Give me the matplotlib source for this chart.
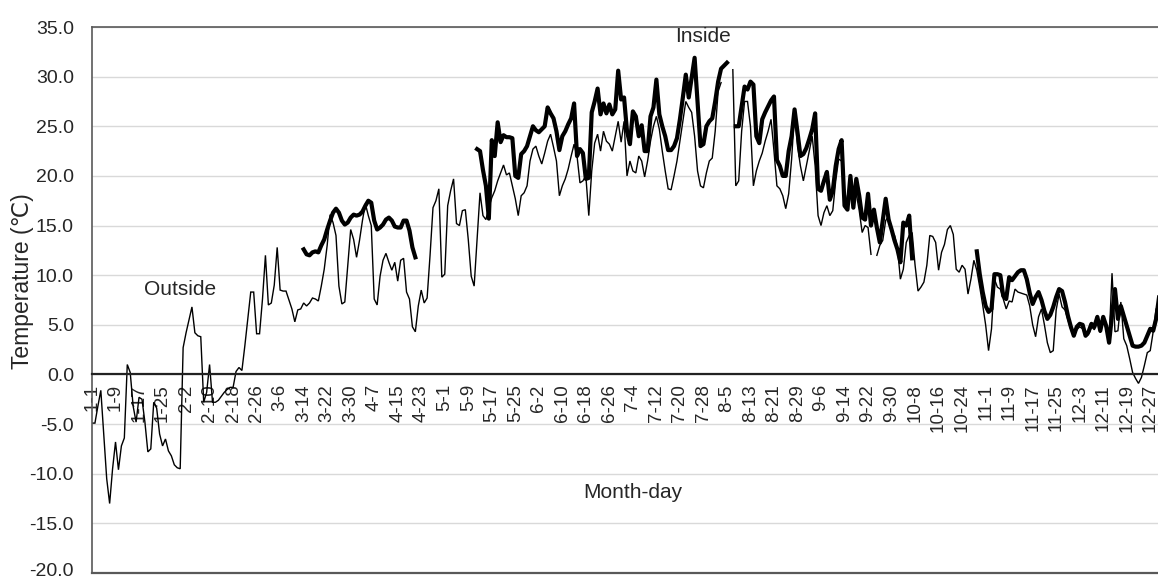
import matplotlib
matplotlib.use("Agg")
import matplotlib.pyplot as plt
import matplotlib.transforms as mtransforms
import numpy as np

plt.rcParams['font.family'] = ['Liberation Sans', 'DejaVu Sans']

# daily mean temperature, 1 Jan .. 31 Dec (None = no record)
outside = [
    -4.9, -4.9, -3.2, -1.6, -6.0, -10.5, -13.0, -9.5, -6.8, -9.6,
    -7.2, -6.4, 1.0, 0.2, -3.2, -4.8, -2.3, -2.5, -4.8, -7.8,
    -7.5, -2.8, -3.4, -6.0, -7.2, -6.5, -7.7, -8.2, -9.1, -9.4,
    -9.5, 2.7, 4.2, 5.5, 6.8, 4.2, 3.9, 3.8, -2.8, -1.8,
    1.0, -2.8, -2.8, -2.6, -2.2, -1.8, -1.5, -1.3, -1.3, 0.3,
    0.7, 0.4, 2.9, 5.6, 8.3, 8.3, 4.1, 4.1, 7.6, 12.0,
    7.0, 7.2, 9.0, 12.8, 8.5, 8.4, 8.4, 7.5, 6.6, 5.3,
    6.5, 6.6, 7.2, 6.9, 7.2, 7.7, 7.6, 7.4, 8.9, 10.6,
    13.0, 16.1, 15.3, 14.0, 8.9, 7.1, 7.3, 11.0, 14.6, 13.6,
    11.8, 13.5, 15.5, 17.2, 16.0, 15.0, 7.6, 7.0, 9.9, 11.5,
    12.2, 11.3, 10.5, 11.3, 9.4, 11.5, 11.7, 8.3, 7.6, 4.8,
    4.3, 6.9, 8.5, 7.2, 7.7, 12.0, 16.8, 17.5, 18.7, 9.8,
    10.1, 17.0, 18.5, 19.7, 15.2, 15.0, 16.5, 16.6, 13.6, 9.9,
    8.9, 13.6, 18.3, 16.0, 15.6, 16.8, 17.8, 18.5, 19.5, 20.3,
    21.1, 20.1, 20.3, 19.0, 17.7, 16.0, 18.0, 18.3, 19.0, 21.5,
    22.7, 23.0, 22.0, 21.2, 22.3, 23.5, 24.2, 22.9, 21.5, 18.0,
    19.0, 19.7, 20.7, 22.0, 23.2, 22.0, 19.3, 19.5, 20.0, 16.0,
    20.5, 23.3, 24.2, 22.5, 24.5, 23.5, 23.2, 22.5, 24.0, 25.5,
    23.4, 25.5, 20.0, 21.5, 20.5, 20.3, 22.0, 21.5, 19.9, 21.5,
    23.5, 25.0, 26.0, 24.7, 22.5, 20.5, 18.7, 18.6, 20.0, 21.5,
    23.5, 25.5, 27.5, 26.9, 26.4, 24.0, 20.5, 19.0, 18.8, 20.3,
    21.5, 21.8, 24.5, 28.5, 29.4, None, None, None, 30.7, 19.0,
    19.5, 24.5, 27.5, 27.5, 25.0, 19.0, 20.5, 21.5, 22.3, 23.5,
    24.5, 25.7, 22.5, 19.0, 18.7, 18.0, 16.7, 18.2, 21.7, 26.4,
    23.0, 21.0, 19.5, 21.0, 22.5, 24.0, 21.0, 16.0, 15.0, 16.3,
    17.0, 16.0, 16.5, 19.5, 21.7, 21.5, 18.5, 17.1, 18.3, 17.0,
    18.2, 16.5, 14.3, 15.0, 14.8, 12.1, None, 12.0, 13.0, 13.5,
    15.5, 16.0, 14.5, 14.0, 12.8, 9.6, 10.6, 13.3, 14.0, 14.3,
    11.0, 8.4, 8.8, 9.3, 11.0, 14.0, 13.9, 13.3, 10.5, 12.3,
    13.1, 14.6, 15.0, 14.1, 10.6, 10.3, 11.0, 10.6, 8.1, 9.6,
    11.5, 10.5, 8.8, 7.0, 5.0, 2.4, 4.6, 9.6, 8.8, 8.6,
    7.6, 6.6, 7.4, 7.3, 8.6, 8.3, 8.2, 8.1, 8.0, 6.9,
    5.0, 3.8, 5.8, 6.6, 5.0, 3.2, 2.2, 2.4, 6.5, 8.1,
    6.8, 6.5, 5.5, 4.5, 3.8, 4.5, 4.8, 4.6, 3.8, 4.0,
    4.8, 4.5, 5.4, 4.2, 5.4, 4.6, 3.4, 10.2, 4.3, 4.4,
    7.3, 3.6, 2.9, 1.6, 0.2, -0.4, -0.9, -0.3, 0.9, 2.2,
    2.4, 4.3, 6.6, 7.0, 7.5,
]

inside = (
    [None] * 72
    + [12.6, 12.1, 12.0, 12.3, 12.4, 12.3, 13.0, 13.6, 14.6, 15.5,
       16.3, 16.7, 16.3, 15.5, 15.1, 15.3, 15.8, 16.1, 16.0, 16.1,
       16.4, 17.0, 17.5, 17.3, 15.5, 14.6, 14.8, 15.1, 15.6, 15.8,
       15.5, 14.9, 14.8, 14.8, 15.5, 15.5, 14.5, 12.8, 11.8]
    + [None] * 20
    + [22.7, 22.5, 20.6, 19.0, 15.7, 23.6, 22.0, 25.4, 23.4, 24.1,
       23.9, 23.9, 23.8, 20.0, 19.8, 22.2, 22.5, 23.0, 24.0, 25.0,
       24.6, 24.4, 24.7, 25.0, 26.9, 26.3, 25.8, 24.5, 22.6, 24.0,
       24.5, 25.2, 25.8, 27.3, 22.0, 22.7, 22.3, 19.7, 19.8, 26.4,
       27.5, 28.8, 26.2, 27.3, 26.3, 27.2, 26.2, 26.7, 30.6, 27.7,
       27.9, 24.5, 23.2, 26.5, 26.0, 24.0, 25.1, 22.5, 22.5, 26.0,
       26.9, 29.7, 26.2, 25.0, 24.0, 22.6, 22.6, 23.0, 23.8, 25.7,
       27.9, 30.2, 27.9, 29.9, 31.9, 27.4, 23.0, 23.2, 25.0, 25.5,
       25.8, 27.5, 29.5, 30.8, 31.1, 31.4]
    + [None] * 2
    + [25.0, 25.0, 27.0, 29.0, 28.7, 29.5, 29.2, 24.0, 23.3, 25.7,
       26.4, 27.0, 27.6, 28.0, 21.6, 21.0, 20.0, 20.0, 22.5, 24.0,
       26.7, 24.4, 22.0, 22.2, 22.8, 23.7, 24.7, 26.3, 18.7, 18.5,
       19.5, 20.4, 17.6, 18.5, 21.0, 22.7, 23.6, 17.0, 16.6, 20.0,
       16.8, 19.7, 18.0, 15.8, 15.6, 18.2, 15.0, 16.6, 14.8, 13.3,
       15.5, 17.7, 15.6, 14.6, 13.5, 12.6, 11.3, 15.3, 15.0, 16.0, 11.7]
    + [None] * 21
    + [12.4, 10.1, 8.3, 6.9, 6.3, 6.6, 10.1, 10.1, 10.0, 7.9,
       7.6, 9.8, 9.5, 9.9, 10.3, 10.5, 10.5, 9.6, 8.2, 7.1,
       7.8, 8.3, 7.5, 6.4, 5.6, 6.0, 6.8, 7.8, 8.6, 8.4,
       7.3, 5.9, 4.8, 3.9, 4.8, 5.1, 5.0, 3.9, 4.3, 5.1,
       4.8, 5.8, 4.4, 5.8, 4.9, 3.2, 6.0, 8.6, 5.6, 6.9,
       5.9, 4.9, 3.9, 2.9, 2.8, 2.8, 2.9, 3.2, 3.9, 4.6,
       4.4, 5.6, 7.8, 8.5]
)

# category labels, one every 8 days
tick_labels = ['1-1', '1-9', '1-17', '1-25', '2-2', '2-10', '2-18', '2-26',
               '3-6', '3-14', '3-22', '3-30', '4-7', '4-15', '4-23', '5-1',
               '5-9', '5-17', '5-25', '6-2', '6-10', '6-18', '6-26', '7-4',
               '7-12', '7-20', '7-28', '8-5', '8-13', '8-21', '8-29', '9-6',
               '9-14', '9-22', '9-30', '10-8', '10-16', '10-24', '11-1', '11-9',
               '11-17', '11-25', '12-3', '12-11', '12-19', '12-27']

outside = np.array(outside, dtype=float)
inside = np.array(inside, dtype=float)
days = np.arange(len(outside))

fig = plt.figure(figsize=(11.58, 5.79), dpi=100)
ax = fig.add_axes([92 / 1158, 6 / 579, 1070 / 1158, 546 / 579])

# x axis crosses at 0 (set before tick labels, it resets them)
ax.spines['bottom'].set_position(('data', 0))
ax.spines['bottom'].set_color('#222222')
ax.spines['bottom'].set_linewidth(1.6)
ax.spines['left'].set_color('#595959')
ax.spines['left'].set_linewidth(1.2)
ax.spines['top'].set_color('#595959')
ax.spines['top'].set_linewidth(1.2)
ax.spines['right'].set_visible(False)

ax.plot(days, outside, color='black', lw=1.0, solid_joinstyle='miter')
ax.plot(days, inside, color='black', lw=3.0, solid_joinstyle='round')

ax.set_xlim(0, 364)
ax.set_ylim(-20, 35)
yt = np.arange(-20, 36, 5)
ax.set_yticks(yt)
ax.set_yticklabels([f'{v:.1f}' for v in yt])
ax.grid(axis='y', color='#d9d9d9', lw=1.0)
ax.set_axisbelow(True)

ax.set_xticks(days[::8])
ax.set_xticklabels(tick_labels)
for lab in ax.get_xticklabels():
    lab.set_rotation(90)
    lab.set_va('top')
    lab.set_ha('center')

ax.tick_params(axis='y', length=0, pad=13, labelsize=14, colors='#262626')
ax.tick_params(axis='x', length=0, pad=7, labelsize=13.5, colors='#262626')

# lowest y label sits a little above the frame so it stays inside the figure
bottom_lab = ax.get_yticklabels()[0]
bottom_lab.set_transform(bottom_lab.get_transform() +
                         mtransforms.ScaledTranslation(0, 4 / 100, fig.dpi_scale_trans))

ax.axhline(-20, color='#595959', lw=1.6, clip_on=False, zorder=3)

ax.text(30, 8.6, 'Outside', fontsize=15, ha='center', va='center', color='#262626')
ax.text(208, 34.0, 'Inside', fontsize=15, ha='center', va='center', color='#262626')
ax.text(184, -11.9, 'Month-day', fontsize=15, ha='center', va='center', color='#262626')

fig.text(23 / 1158, 1 - 281 / 579, 'Temperature (℃)', rotation=90,
         fontsize=16.5, ha='center', va='center', color='#262626')

fig.savefig('out.png', dpi=100)
